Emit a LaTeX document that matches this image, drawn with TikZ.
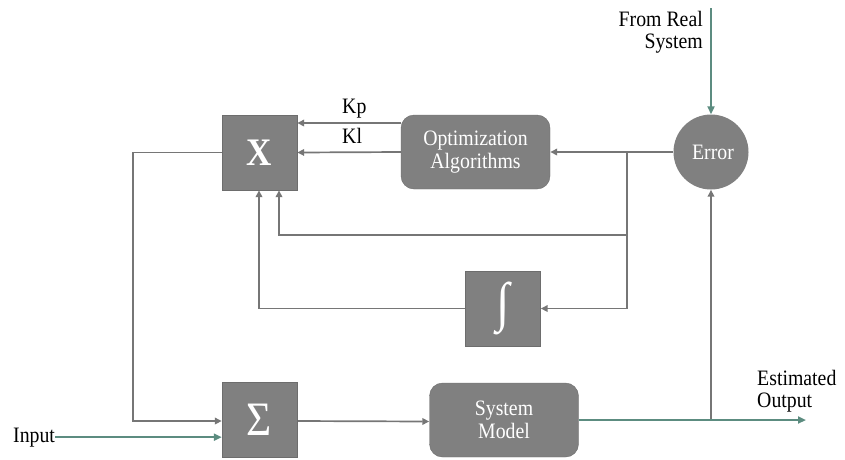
\documentclass[tikz,border=0pt]{standalone}
\usepackage{fontspec}
\setmainfont[FakeStretch=0.9]{Liberation Serif}
\usetikzlibrary{arrows.meta,backgrounds,calc}
\definecolor{boxgray}{RGB}{128,128,128}
\definecolor{linegray}{RGB}{118,118,118}
\definecolor{sigteal}{RGB}{92,140,128}
\tikzset{
  x=1pt, y=-1pt,
  blk/.style={fill=boxgray, draw=boxgray!85!black, line width=0.4pt, text=white,
    minimum width=75pt, minimum height=75pt, inner sep=0pt},
  rblk/.style={blk, rounded corners=13pt, minimum width=149pt, minimum height=74pt,
    align=center, font=\fontsize{22}{22.5}\selectfont},
  lbl/.style={inner sep=0pt, font=\fontsize{22}{22.5}\selectfont},
  wire/.style={draw=linegray, line width=1.7pt,
    -{Triangle[length=7pt,width=6.5pt]}},
  sig/.style={draw=sigteal, line width=2.2pt,
    -{Triangle[length=8pt,width=7pt]}}
}
\begin{document}
\begin{tikzpicture}
\useasboundingbox (0,0) rectangle (845,459);

% blocks
\node[blk, font=\fontsize{39}{39}\selectfont\bfseries] (mul) at (259.5,152.5) {X};
\node[rblk] (opt) at (475.5,152) {Optimization\\Algorithms};
\node[circle, fill=boxgray, text=white, minimum size=75pt, inner sep=0pt,
  font=\fontsize{22}{22.5}\selectfont] (err) at (711,152) {\hspace*{4pt}Error};
\node[blk, font=\fontsize{54}{54}\selectfont] (int) at (503,308.5) {∫};
\node[blk, font=\fontsize{48}{48}\selectfont] (sum) at (259.5,419.5) {Σ};
\node[rblk] (sys) at (504,420) {System\\Model};

% labels
\node[lbl, align=right, anchor=north east] (real) at (703,11) {From Real\\System};
\node[lbl, align=left, anchor=north west] (est) at (757,370) {Estimated\\Output};
\node[lbl, anchor=base west] (input) at (13,442) {Input};
\node[lbl, anchor=base west] (kp) at (342,113) {Kp};
\node[lbl, anchor=base west] (ki) at (342,143) {Kl};

% helper points
\coordinate (src) at (711,8);
\coordinate (kprow) at (0,123);
\coordinate (fbrow) at (0,235);
\coordinate (b1) at (627,152);
\coordinate (out) at (806,420);

\begin{scope}[on background layer]
  % gains from the optimizer
  \draw[wire] (opt.west |- kprow) -- (mul.east |- kprow);
  \draw[wire] (opt.west) -- (mul.east);
  % error to optimizer and feedback paths
  \draw[wire] (err.west) -- (opt.east);
  \draw[wire] (b1) |- (int.east);
  \draw[wire] (b1 |- fbrow) -| ([xshift=19.5pt]mul.south);
  \draw[wire] (int.west) -| ([xshift=-0.5pt]mul.south);
  % product back to the summer
  \draw[wire] (mul.west) -- ++(-89,0) |- ([yshift=-1.5pt]sum.west);
  \draw[wire] ([yshift=-1.5pt]sum.east) -- ([yshift=-1.5pt]sys.west);
  % estimated output to error
  \draw[wire] (err.south |- sys.east) -- (err.south);
  % external signals
  \draw[sig] (src) -- (err.north);
  \draw[sig] (input.east) -- (input.east -| sum.west);
  \draw[sig] (sys.east) -- (out);
\end{scope}
\end{tikzpicture}
\end{document}
